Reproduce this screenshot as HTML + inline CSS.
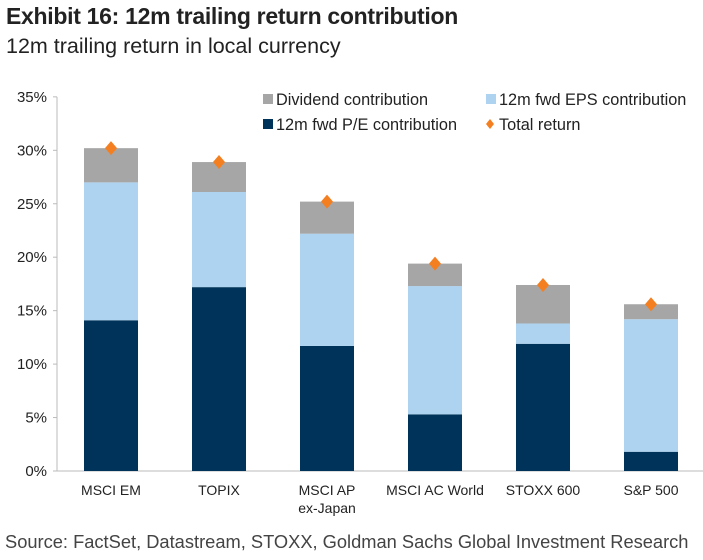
<!DOCTYPE html>
<html><head><meta charset="utf-8"><style>
body{margin:0;background:#fff;width:703px;height:560px;overflow:hidden;font-family:"Liberation Sans",sans-serif}
#t{position:absolute;left:6px;top:3px;font-size:23px;font-weight:bold;color:#222;letter-spacing:-0.3px}
#s{position:absolute;left:6px;top:34px;font-size:21.5px;color:#222}
#src{position:absolute;left:5px;top:531px;font-size:18.3px;color:#444}
svg{position:absolute;left:0;top:0}
</style></head><body>
<div id="t">Exhibit 16: 12m trailing return contribution</div>
<div id="s">12m trailing return in local currency</div>
<svg id="c" width="703" height="560"></svg>
<div id="src">Source: FactSet, Datastream, STOXX, Goldman Sachs Global Investment Research</div>
<script>
const categories=["MSCI EM","TOPIX","MSCI AP|ex-Japan","MSCI AC World","STOXX 600","S&P 500"];
const peContribution=[14.1,17.2,11.7,5.3,11.9,1.8];
const epsContribution=[12.9,8.9,10.5,12.0,1.9,12.4];
const divContribution=[3.2,2.8,3.0,2.1,3.6,1.4];
const totalReturn=[30.2,28.9,25.2,19.4,17.4,15.6];
const yTicks=[0,5,10,15,20,25,30,35];
const NS="http://www.w3.org/2000/svg",svg=document.getElementById('c');
const x0=57,bw=108,y0=471,pxPer=10.69;
const y=v=>y0-v*pxPer, xc=i=>x0+bw*(i+0.5);
function mk(t,a,p){const e=document.createElementNS(NS,t);for(const k in a)e.setAttribute(k,a[k]);(p||svg).appendChild(e);return e;}
yTicks.forEach(v=>{const t=mk('text',{x:47,y:y(v)+5,'text-anchor':'end','font-size':15,fill:'#222','font-family':'Liberation Sans'});t.textContent=v+'%';


mk('line',{x1:53,x2:57,y1:y(v),y2:y(v),stroke:'#bbb'});});
const ax=mk('line',{x1:57,x2:57,y1:y(35),y2:y0,stroke:'#bbb'});


const xa=mk('line',{x1:53,x2:703,y1:y0,y2:y0,stroke:'#bbb'});


const cols=['#003359','#aed3f0','#a6a6a6'];
categories.forEach((c,i)=>{let base=0;[peContribution[i],epsContribution[i],divContribution[i]].forEach((v,k)=>{
const r=mk('rect',{x:xc(i)-27,width:54,y:y(base+v),height:v*pxPer,fill:cols[k]});


base+=v;});
const tv=totalReturn[i],cx=xc(i),cy=y(tv);
const d=mk('polygon',{points:`${cx},${cy-7} ${cx+6},${cy} ${cx},${cy+7} ${cx-6},${cy}`,fill:'#f47f20'});


c.split('|').forEach((ln,j)=>{const t=mk('text',{x:cx,y:495+j*18,'text-anchor':'middle','font-size':14,fill:'#222','font-family':'Liberation Sans'});t.textContent=ln;

});
});
[['#a6a6a6','Dividend contribution',263,100,'s'],['#aed3f0','12m fwd EPS contribution',486,100,'s'],['#003359','12m fwd P/E contribution',263,125,'s'],['#f47f20','Total return',486,125,'d']].forEach((l,i)=>{
const g=mk('g',{});


if(l[4]=='s')mk('rect',{x:l[2],y:l[3]-6,width:10,height:10,fill:l[0]},g);
else mk('polygon',{points:`${l[2]+4},${l[3]-6} ${l[2]+8},${l[3]-1} ${l[2]+4},${l[3]+4} ${l[2]},${l[3]-1}`,fill:l[0]},g);
const t=mk('text',{x:l[2]+13,y:l[3]+5,'font-size':16.3,fill:'#222','font-family':'Liberation Sans'},g);t.textContent=l[1];});
</script>
</body></html>
